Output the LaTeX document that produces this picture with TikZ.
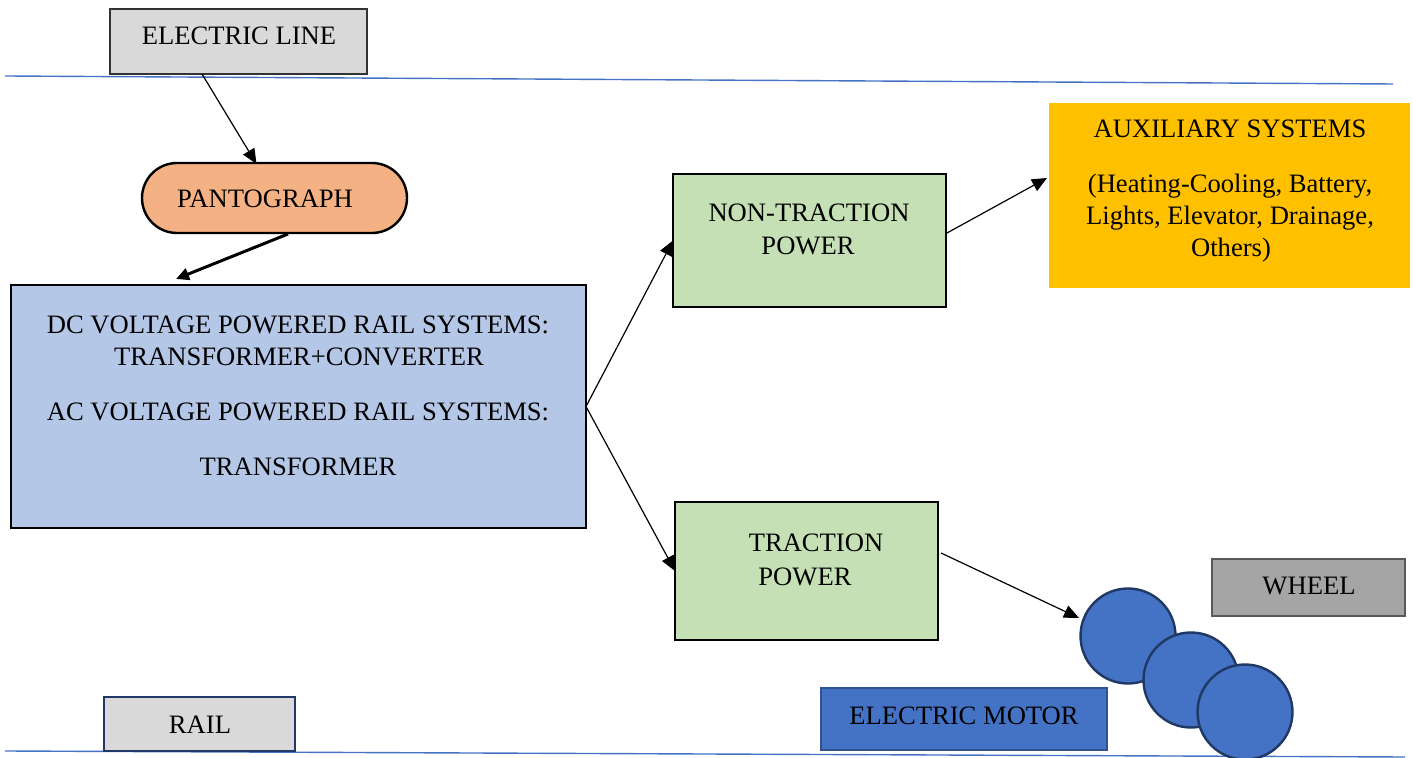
\documentclass[tikz,border=0pt]{standalone}
\usepackage{fontspec}
\setmainfont{Liberation Serif}
\usetikzlibrary{arrows.meta,calc}
\definecolor{linegray}{HTML}{D9D9D9}
\definecolor{pantofill}{HTML}{F4B183}
\definecolor{dcfill}{HTML}{B4C7E7}
\definecolor{greenfill}{HTML}{C5E0B4}
\definecolor{auxfill}{HTML}{FFC000}
\definecolor{wheelfill}{HTML}{A5A5A5}
\definecolor{wheelborder}{HTML}{595959}
\definecolor{motorfill}{HTML}{4472C4}
\definecolor{motorborder}{HTML}{2F528F}
\definecolor{navy}{HTML}{203864}
\definecolor{groundline}{HTML}{4472C4}
\begin{document}
\begin{tikzpicture}[x=0.5pt,y=-0.5pt,
  box/.style={draw=black, line width=1.2pt, inner sep=0pt, outer sep=0pt},
  txt/.style={anchor=base, inner sep=0pt, font=\fontsize{13.3}{16}\selectfont},
  arr/.style={line width=0.6pt, -{Triangle[length=7.5pt,width=6.5pt]}},
  thickarr/.style={line width=1.5pt, -{Triangle[length=6.5pt,width=6pt]}},
  ground/.style={draw=groundline, line width=0.7pt},
  wheelc/.style={circle, draw=navy, fill=motorfill, line width=1.2pt, minimum size=47.5pt, inner sep=0pt}]
\useasboundingbox (0,0) rectangle (1413,758);

% ground lines
\coordinate (topL) at (5,76);
\coordinate (topR) at (1393,84);
\coordinate (botL) at (5,751);
\coordinate (botR) at (1405,757);
\draw[ground] (topL) -- (topR);
\draw[ground] (botL) -- (botR);

% boxes
\node[box, draw=black!80, fill=linegray, minimum width=128.5pt, minimum height=32.5pt] (eline) at (238.5,41.5) {};
\node[box, fill=pantofill, rounded corners=17.5pt, minimum width=132.5pt, minimum height=35pt] (panto) at (274.5,198) {};
\node[box, fill=dcfill, minimum width=287.5pt, minimum height=121.5pt] (dc) at (298.5,406.5) {};
\node[box, fill=greenfill, minimum width=136.5pt, minimum height=66.5pt] (nontr) at (809.5,240.5) {};
\node[inner sep=0pt, outer sep=0pt, fill=auxfill, minimum width=180.5pt, minimum height=92.5pt] (aux) at (1229.5,195.5) {};
\node[box, fill=greenfill, minimum width=131.5pt, minimum height=69pt] (tr) at (806.5,571) {};
\node[box, draw=wheelborder, fill=wheelfill, minimum width=96.5pt, minimum height=28.5pt] (wheel) at (1308.5,587.5) {};
\node[box, draw=motorborder, fill=motorfill, minimum width=143pt, minimum height=31pt] (motor) at (964,719) {};
\node[box, draw=navy, fill=linegray, minimum width=95.5pt, minimum height=27pt] (rail) at (199.5,724) {};

% wheels
\node[wheelc] (c1) at (1128,636) {};
\node[wheelc] (c2) at (1191,680) {};
\node[wheelc] (c3) at (1245,712) {};

% texts
\node[txt] (telin) at (239,45) {ELECTRIC LINE};
\node[txt] (tpanto) at (265,208) {PANTOGRAPH};
\node[txt] (tdc1) at (298,334) {DC VOLTAGE POWERED RAIL SYSTEMS:};
\node[txt] (tdc2) at (299,366) {TRANSFORMER+CONVERTER};
\node[txt] (tdc3) at (298,421) {AC VOLTAGE POWERED RAIL SYSTEMS:};
\node[txt] (tdc4) at (298,476) {TRANSFORMER};
\node[txt] (tnt1) at (809,222) {NON-TRACTION};
\node[txt] (tnt2) at (808,255) {POWER};
\node[txt] (tax1) at (1230,138) {AUXILIARY SYSTEMS};
\node[txt] (tax2) at (1230,193) {(Heating-Cooling, Battery,};
\node[txt] (tax3) at (1230,225) {Lights, Elevator, Drainage,};
\node[txt] (tax4) at (1231,257) {Others)};
\node[txt] (ttr1) at (816,552) {TRACTION};
\node[txt] (ttr2) at (805,586) {POWER};
\node[txt] (twheel) at (1309,595) {WHEEL};
\node[txt] (tmotor) at (964,724) {ELECTRIC MOTOR};
\node[txt] (trail) at (200,733) {RAIL};

% connectors
\draw[arr] ($(eline.south west)+(92,0)$) -- ($(panto.north)+(-18,1)$);
\draw[thickarr] ($(panto.south)+(13.5,1)$) -- ($(dc.north west)+(165,-6)$);
\draw[arr] (dc.east) -- (nontr.west);
\draw[arr] (dc.east) -- (tr.west);
\draw[arr] ($(nontr.east)+(1,-7.5)$) -- ($(aux.west)+(-2,-17.5)$);
\draw[arr] ($(tr.east)+(3,-18)$) -- ($(c1)+(-49,-18)$);
\end{tikzpicture}
\end{document}
